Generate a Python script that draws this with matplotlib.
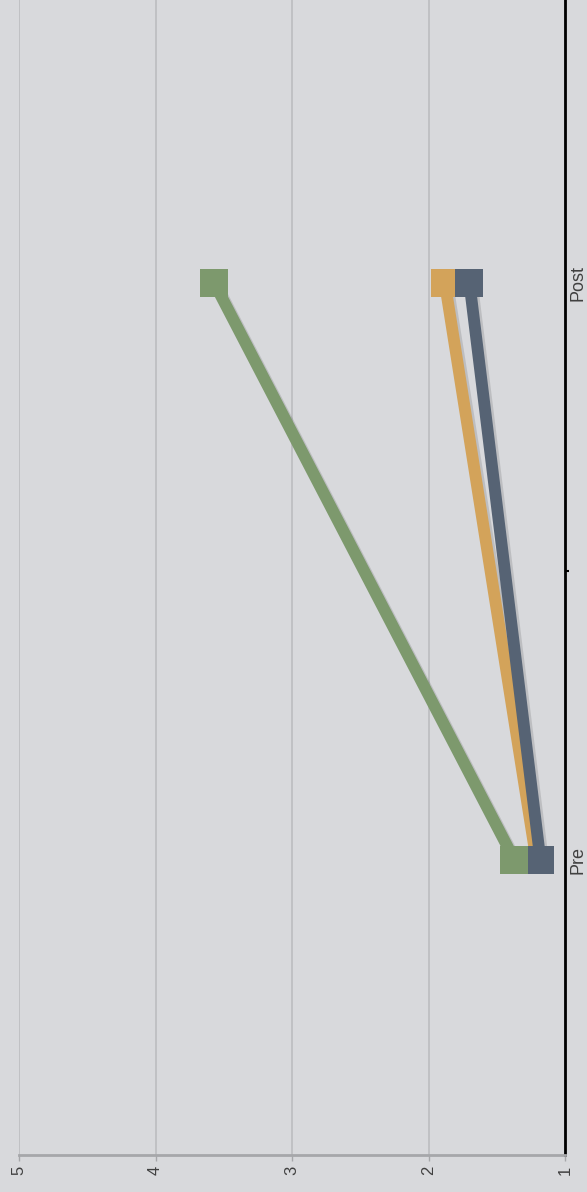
import matplotlib
matplotlib.use("Agg")
import matplotlib.pyplot as plt
import matplotlib.patheffects as pe

# Chart data (the original chart is drawn rotated by 90 degrees)
categories = ["Pre", "Post"]
green_vals = [1.37, 3.57]
orange_vals = [1.21, 1.88]
slate_vals = [1.18, 1.70]
value_ticks = [1, 2, 3, 4, 5]

bg = "#d8d9dc"
colors = {"green": "#7d996d", "orange": "#d3a35a", "slate": "#566374"}

plt.rcParams["font.family"] = ["Liberation Sans", "DejaVu Sans"]

fig = plt.figure(figsize=(5.87, 11.92), dpi=100, facecolor=bg)
ax = fig.add_axes([19/587, (1192-1155)/1192, (565-19)/587, 1155/1192])
ax.set_facecolor(bg)

cat_pos = list(range(len(categories)))

shadow = [pe.SimpleLineShadow(offset=(2, -2), shadow_color="black", alpha=0.12),
          pe.Normal()]

# orange first, so slate and green sit on top of it
for i, (vals, key) in enumerate([(orange_vals, "orange"), (slate_vals, "slate"), (green_vals, "green")]):
    ax.plot(vals, cat_pos, color=colors[key], lw=8.5, solid_capstyle="butt",
            path_effects=shadow, zorder=3 + i)
    ax.plot(vals, cat_pos, ls="none", marker="s", ms=19.5, mew=0,
            color=colors[key], zorder=10 + i)

ax.set_xlim(5, 1)
ax.set_ylim(-0.511, 1.49)

ax.set_xticks(value_ticks)
ax.set_xticklabels([str(v) for v in value_ticks], rotation=90, fontsize=12, color="#404040")
ax.tick_params(axis="x", length=4, width=1, color="#a6a7aa", pad=4)
ax.grid(axis="x", color="#bcbdc0", lw=1.2)
ax.set_axisbelow(True)

ax.yaxis.tick_right()
ax.set_yticks(cat_pos)
ax.set_yticklabels(categories, rotation=90, va="center", fontsize=13, color="#404040")
ax.tick_params(axis="y", length=0, pad=3)
ax.set_yticks([0.5], minor=True)
ax.tick_params(axis="y", which="minor", length=3, width=1.5, color="black")

for s in ["left", "top"]:
    ax.spines[s].set_visible(False)
ax.spines["right"].set_color("black")
ax.spines["right"].set_linewidth(2)
ax.spines["bottom"].set_color("#a6a7aa")
ax.spines["bottom"].set_linewidth(2)

fig.savefig("out.png", dpi=100, facecolor=bg)
